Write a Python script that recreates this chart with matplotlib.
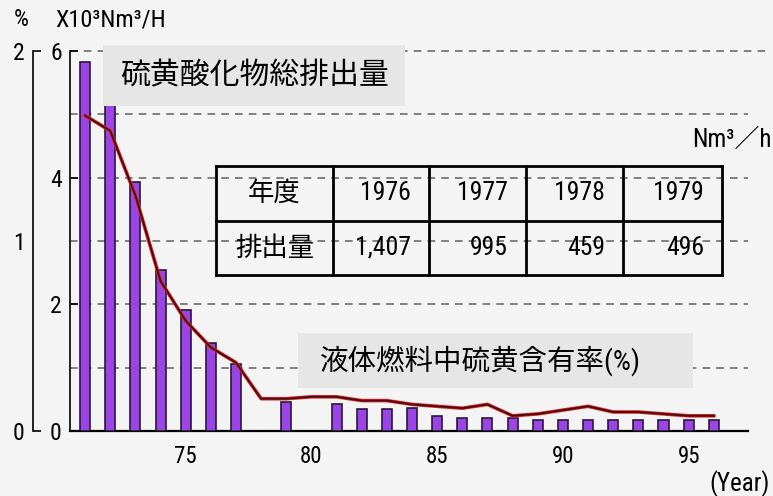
import matplotlib
matplotlib.use('Agg')
import matplotlib.pyplot as plt
from matplotlib import font_manager
from matplotlib.patches import Rectangle

# Data
bar_years = [71, 72, 73, 74, 75, 76, 77, 79, 81, 82, 83, 84, 85, 86, 87, 88,
             89, 90, 91, 92, 93, 94, 95, 96]
emission = [5.83, 5.5, 3.93, 2.54, 1.91, 1.39, 1.06, 0.46, 0.43, 0.35, 0.35,
            0.36, 0.24, 0.21, 0.21, 0.20, 0.17, 0.17, 0.17, 0.17, 0.18, 0.18,
            0.17, 0.17]  # x10^3 Nm3/H

line_years = list(range(71, 97))
sulfur_pct = [1.66, 1.58, 1.24, 0.79, 0.58, 0.44, 0.36, 0.17, 0.17, 0.18,
              0.18, 0.16, 0.16, 0.14, 0.13, 0.12, 0.14, 0.08, 0.09, 0.11,
              0.13, 0.10, 0.10, 0.09, 0.08, 0.08]

x_ticks = [75, 80, 85, 90, 95]
left_ticks = [0, 2, 4, 6]
pct_ticks = [0, 1, 2]

table_head = ['年度', '1976', '1977', '1978', '1979']
table_row = ['排出量', '1,407', '995', '459', '496']

# fonts: prefer a condensed face like the scanned original
names = {f.name for f in font_manager.fontManager.ttflist}
narrow = 'Liberation Sans'
for cand in ['Liberation Sans Narrow', 'DejaVu Sans Condensed', 'Roboto Condensed']:
    if cand in names:
        narrow = cand
        break
jp = 'Noto Sans CJK JP'
mixed = [narrow, jp]

bg = '#f4f4f4'
fig = plt.figure(figsize=(7.73, 4.96), dpi=100, facecolor=bg)

# main axes (bars, x10^3 Nm3/H)
ax = fig.add_axes([70 / 773, 65 / 496, 678 / 773, 380 / 496])
ax.set_facecolor(bg)
ax.bar(bar_years, emission, width=0.4, color='#9b45e6', edgecolor='#2a1838',
       linewidth=1.2, zorder=3)
ax.set_xlim(70.4, 97.36)
ax.set_ylim(0, 6)

for v in [1, 2, 3, 4, 5]:
    ax.axhline(v, color='#606060', lw=1.1, dashes=(5, 4), zorder=1)
ax.axhline(6, xmax=1.03, color='#606060', lw=1.1, dashes=(5, 4), zorder=1,
           clip_on=False)

for s in ['top', 'right']:
    ax.spines[s].set_visible(False)
ax.spines['left'].set_linewidth(1.2)
ax.spines['bottom'].set_linewidth(1.6)
ax.set_xticks(x_ticks)
ax.set_xticklabels([str(t) for t in x_ticks], fontfamily=narrow, fontsize=16.5)
ax.tick_params(axis='x', length=0, pad=10)
ax.set_yticks(left_ticks)
ax.set_yticklabels([str(t) for t in left_ticks], fontfamily=narrow, fontsize=17)
ax.tick_params(axis='y', direction='in', length=6, width=1.2, pad=6)

# second axis (% sulfur content)
ax2 = ax.twinx()
ax2.set_ylim(0, 2)
for s in ['top', 'right', 'bottom']:
    ax2.spines[s].set_visible(False)
ax2.spines['left'].set_visible(True)
ax2.spines['left'].set_position(('outward', 26.6))
ax2.spines['left'].set_linewidth(1.2)
ax2.yaxis.set_ticks_position('left')
ax2.yaxis.set_label_position('left')
ax2.set_yticks(pct_ticks)
ax2.set_yticklabels([str(t) for t in pct_ticks], fontfamily=narrow, fontsize=17)
ax2.tick_params(axis='y', direction='in', length=6, width=1.2, pad=6)
ax2.yaxis.get_major_ticks()[1].tick1line.set_visible(False)

ax2.plot(line_years, sulfur_pct, color='#e02a2a', lw=2.6, zorder=4)
ax2.plot(line_years, sulfur_pct, color='#4a0c12', lw=1.4, zorder=5)

# overlay in pixel coordinates for labels, boxes and table
ov = fig.add_axes([0, 0, 1, 1])
ov.set_xlim(0, 773)
ov.set_ylim(496, 0)
ov.axis('off')
ov.patch.set_alpha(0)

ov.text(14, 20, '%', fontfamily=narrow, fontsize=17, va='center')
ov.text(55, 20, 'X10³Nm³/H', fontfamily=mixed, fontsize=17.5, va='center')

ov.add_patch(Rectangle((103, 45), 302, 61, facecolor='#e6e6e6', edgecolor='none'))
ov.text(255, 76, '硫黄酸化物総排出量', fontfamily=jp, fontsize=21.5, ha='center',
        va='center')

ov.add_patch(Rectangle((298, 333), 395, 55, facecolor='#e6e6e6', edgecolor='none'))
ov.text(320, 361, '液体燃料中硫黄含有率(%)', fontfamily=mixed, fontsize=20.5,
        ha='left', va='center')

ov.text(772, 140, 'Nm³／h', fontfamily=mixed, fontsize=18, ha='right', va='center')
ov.text(770, 484, '(Year)', fontfamily=narrow, fontsize=18, ha='right', va='center')

# table
cols = [216, 333, 429, 526, 623, 722]
rows = [166, 221, 275]
for y in rows:
    ov.plot([cols[0], cols[-1]], [y, y], color='black', lw=2, solid_capstyle='projecting')
for x in cols:
    ov.plot([x, x], [rows[0], rows[-1]], color='black', lw=2, solid_capstyle='projecting')
for r, cells in enumerate([table_head, table_row]):
    yc = (rows[r] + rows[r + 1]) / 2
    for c, txt in enumerate(cells):
        if c == 0:
            ov.text((cols[0] + cols[1]) / 2, yc, txt, fontfamily=jp, fontsize=19,
                    ha='center', va='center')
        else:
            ov.text(cols[c + 1] - 18, yc, txt, fontfamily=narrow,
                    fontsize=18.5, ha='right', va='center')

fig.savefig('out.png', dpi=100, facecolor=bg)
